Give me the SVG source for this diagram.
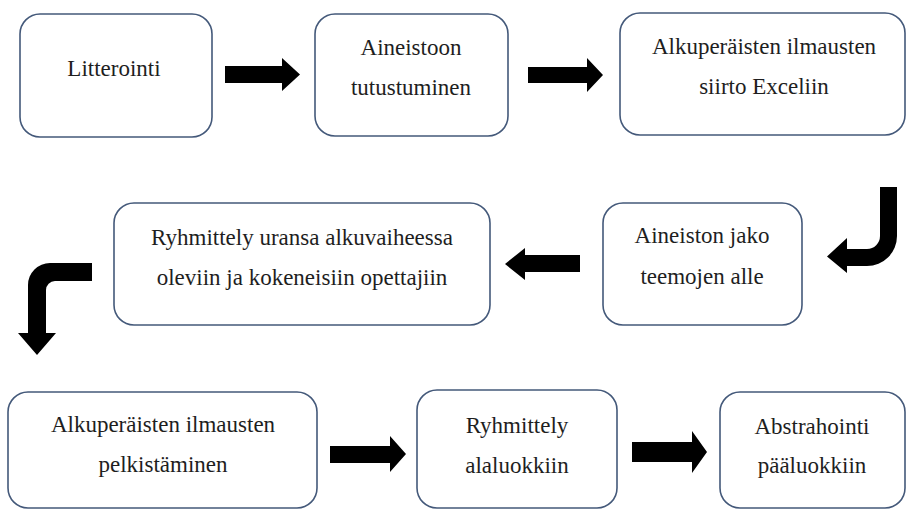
<svg xmlns="http://www.w3.org/2000/svg" width="907" height="510" viewBox="0 0 907 510">
<style>
.box{fill:#fff;stroke:#44597a;stroke-width:1.6}
.arr{fill:#000}
</style>
<rect width="907" height="510" fill="#fff"/>
<g font-family="Liberation Serif, Tinos, Noto Serif, DejaVu Serif, FreeSerif, serif" font-size="23" fill="#1e1e1e" text-anchor="middle">
<g id="n1"><rect class="box" x="20" y="14" width="192" height="123" rx="20"/><text x="114" y="76">Litterointi</text></g>
<g id="n2"><rect class="box" x="315" y="14" width="193" height="122" rx="20"/><text x="411" y="55">Aineistoon</text><text x="411" y="95">tutustuminen</text></g>
<g id="n3"><rect class="box" x="620" y="13" width="285" height="122" rx="20"/><text x="764" y="54">Alkuperäisten ilmausten</text><text x="764" y="94">siirto Exceliin</text></g>
<g id="n4"><rect class="box" x="603" y="203" width="199" height="122" rx="20"/><text x="702" y="243">Aineiston jako</text><text x="702" y="284">teemojen alle</text></g>
<g id="n5"><rect class="box" x="114" y="203" width="376" height="122" rx="20"/><text x="302" y="245">Ryhmittely uransa alkuvaiheessa</text><text x="302" y="285">oleviin ja kokeneisiin opettajiin</text></g>
<g id="n6"><rect class="box" x="8" y="392" width="309" height="116" rx="20"/><text x="163" y="432">Alkuperäisten ilmausten</text><text x="163" y="472">pelkistäminen</text></g>
<g id="n7"><rect class="box" x="417" y="390" width="200" height="118" rx="20"/><text x="517" y="433">Ryhmittely</text><text x="517" y="473">alaluokkiin</text></g>
<g id="n8"><rect class="box" x="720" y="392" width="185" height="116" rx="20"/><text x="812" y="434">Abstrahointi</text><text x="812" y="473">pääluokkiin</text></g>
</g>
<g id="connectors" class="arr">
<path d="M225 66 H282 V58 L300 74.5 L282 91 V83 H225 Z"/>
<path d="M528 67 H587 V58 L603 75 L587 92 V83 H528 Z"/>
<path d="M880 187 H897 V236 A30 30 0 0 1 867 266 H847 V273 L827 256.5 L847 238 V249 H867 A13 13 0 0 0 880 236 Z"/>
<path d="M580 255 H525 V248 L505 264 L525 280 V272 H580 Z"/>
<path d="M92 263 H50 A22 22 0 0 0 28 285 V333 H18 L37 355 L56 333 H46 V290 A9 9 0 0 1 55 281 H92 Z"/>
<path d="M330 446 H390 V436 L406 454 L390 472 V463 H330 Z"/>
<path d="M632 442 H692 V431 L707 452 L692 473 V462 H632 Z"/>
</g>
</svg>
